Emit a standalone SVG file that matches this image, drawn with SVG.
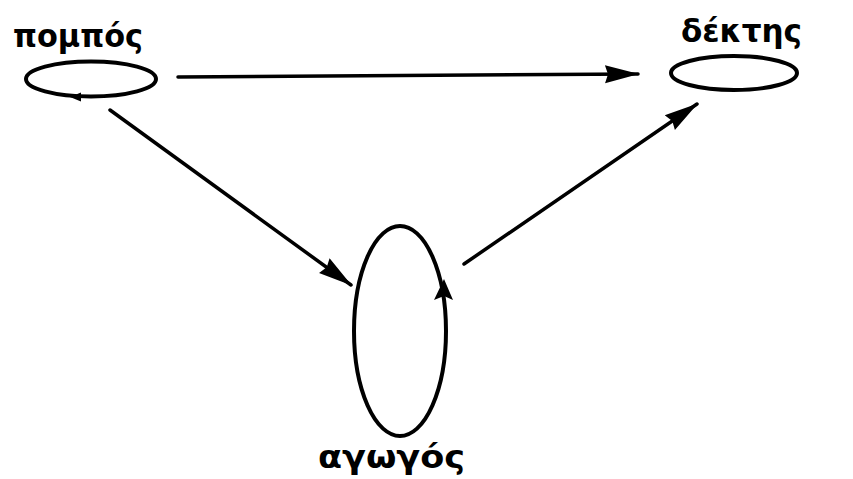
<svg xmlns="http://www.w3.org/2000/svg" width="853" height="479" viewBox="0 0 853 479">
<defs>
<style>
.lbl{font-family:"DejaVu Sans","Noto Sans",sans-serif;font-weight:bold;font-size:31px;fill:#000}
.ring{fill:none;stroke:#000;stroke-width:4}
.edge{fill:none;stroke:#000;stroke-width:3.5;stroke-linecap:round}
.head{fill:#000}
</style>
<marker id="arr" viewBox="0 0 34 20" refX="33" refY="10" markerWidth="34" markerHeight="20" markerUnits="userSpaceOnUse" orient="auto">
<path d="M0,1 L34,10 L0,19 L3,10 Z" class="head"/>
</marker>
</defs>
<rect width="853" height="479" fill="#fff"/>
<g id="pompos">
<ellipse class="ring" cx="91" cy="79" rx="65" ry="17.5"/>
<path class="head" d="M70,97 L81,92.5 L81,101.5 Z"/>
<text class="lbl" x="13" y="47" textLength="130" lengthAdjust="spacingAndGlyphs">πομπός</text>
</g>
<g id="dektis">
<ellipse class="ring" cx="734" cy="73" rx="63" ry="17"/>
<text class="lbl" x="681" y="42" textLength="121" lengthAdjust="spacingAndGlyphs">δέκτης</text>
</g>
<g id="agogos">
<ellipse class="ring" cx="400" cy="331" rx="46" ry="105"/>
<path class="head" d="M444,279 L453,300 L444,296 L434,300 Z"/>
<text class="lbl" x="318" y="468" textLength="147" lengthAdjust="spacingAndGlyphs">αγωγός</text>
</g>
<g id="connectors">
<path class="edge" d="M178,77 L638,74" marker-end="url(#arr)"/>
<path class="edge" d="M110,110 L351,285" marker-end="url(#arr)"/>
<path class="edge" d="M464,264 L697,104" marker-end="url(#arr)"/>
</g>
</svg>
